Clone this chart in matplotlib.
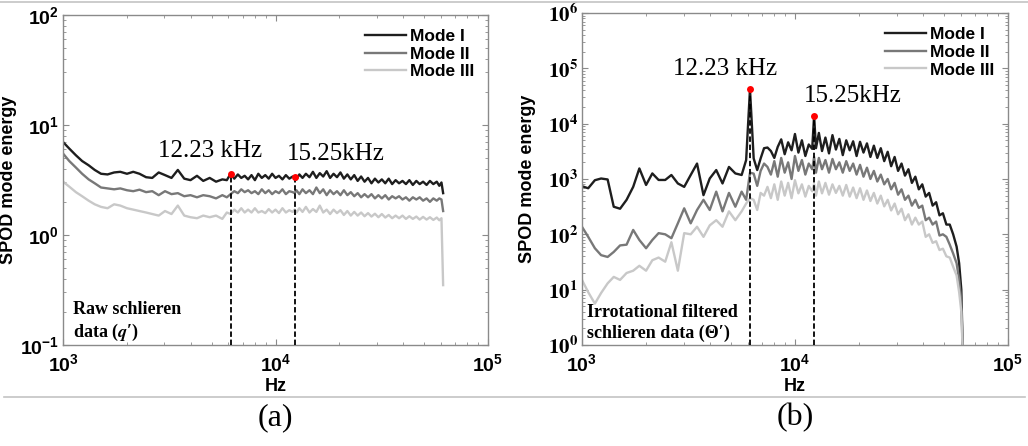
import matplotlib
matplotlib.use("Agg")
import matplotlib.pyplot as plt
from matplotlib.lines import Line2D
from matplotlib import ticker

plt.rcParams['mathtext.fontset'] = 'custom'
plt.rcParams['mathtext.rm'] = 'Liberation Sans:bold'
plt.rcParams['mathtext.bf'] = 'Liberation Sans:bold'

# frequency grid (Hz), shared by both panels
freq = [1000, 1070, 1150, 1230, 1320, 1410, 1510, 1620, 1740, 1860,
        2000, 2140, 2290, 2460, 2630, 2820, 3020, 3240, 3470, 3720,
        3980, 4270, 4570, 4900, 5250, 5620, 5900, 6150, 6400, 6650,
        6900, 7160, 7430, 7710, 8000, 8300, 8620, 8950, 9290, 9640,
        10000, 10380, 10780, 11190, 11610, 12050, 12300, 12550, 12950, 13400,
        13900, 14450, 15000, 15570, 16160, 16770, 17410, 18070, 18760, 19470,
        20210, 20980, 21780, 22610, 23470, 24360, 25290, 26250, 27250, 28290,
        29370, 30490, 31650, 32850, 34100, 35400, 36750, 38150, 39600, 41100,
        42650, 44300, 46000, 47700, 49500, 51400, 53300, 55300, 57400, 59000,
        60400, 61500]

# (a) raw schlieren data
raw_mode1 = [7.0, 6.1, 5.3, 4.7, 4.3, 3.9, 3.6, 3.55, 3.7, 3.75,
             3.6, 3.75, 3.6, 3.35, 3.3, 3.7, 3.5, 3.3, 3.9, 3.25,
             3.15, 3.45, 3.1, 3.3, 3.05, 3.2, 3.15, 3.6, 3.25, 3.55,
             3.3, 3.45, 3.2, 3.5, 3.15, 3.6, 3.3, 3.5, 3.25, 3.6,
             3.3, 3.45, 3.2, 3.5, 3.25, 3.4, 3.35, 3.2, 3.55, 3.3,
             3.6, 3.35, 3.75, 3.3, 3.65, 3.4, 3.8, 3.3, 3.6, 3.35,
             3.7, 3.25, 3.55, 3.2, 3.5, 3.1, 3.4, 3.05, 3.3, 2.95,
             3.25, 3.0, 3.2, 2.95, 3.25, 2.9, 3.15, 2.95, 3.1, 2.9,
             3.15, 2.85, 3.1, 2.9, 3.05, 2.85, 3.1, 2.9, 3.05, 2.8,
             3.0, 2.4]
raw_mode2 = [5.5, 4.7, 4.1, 3.6, 3.2, 2.95, 2.7, 2.65, 2.6, 2.65,
             2.55, 2.5, 2.58, 2.45, 2.5, 2.3, 2.5, 2.35, 2.4, 2.25,
             2.3, 2.2, 2.3, 2.25, 2.15, 2.3, 2.2, 2.35, 2.5, 2.4,
             2.6, 2.45, 2.55, 2.4, 2.5, 2.35, 2.6, 2.4, 2.55, 2.35,
             2.5, 2.4, 2.6, 2.35, 2.5, 2.45, 2.4, 2.55, 2.35, 2.6,
             2.4, 2.55, 2.35, 2.7, 2.4, 2.6, 2.3, 2.55, 2.35, 2.5,
             2.3, 2.55, 2.3, 2.45, 2.25, 2.4, 2.2, 2.35, 2.2, 2.35,
             2.15, 2.3, 2.15, 2.3, 2.1, 2.25, 2.15, 2.25, 2.1, 2.2,
             2.05, 2.2, 2.1, 2.2, 2.05, 2.15, 2.0, 2.15, 2.05, 2.15,
             2.1, 1.65]
raw_mode3 = [3.05, 2.75, 2.45, 2.25, 2.05, 1.9, 1.8, 1.75, 1.9, 1.85,
             1.75, 1.7, 1.65, 1.6, 1.55, 1.5, 1.65, 1.55, 1.85, 1.5,
             1.45, 1.42, 1.5, 1.45, 1.5, 1.4, 1.6, 1.55, 1.7, 1.6,
             1.75, 1.6, 1.7, 1.6, 1.75, 1.6, 1.65, 1.58, 1.72, 1.6,
             1.7, 1.58, 1.75, 1.6, 1.68, 1.62, 1.7, 1.6, 1.75, 1.62,
             1.8, 1.6, 1.72, 1.62, 1.85, 1.6, 1.7, 1.55, 1.7, 1.58,
             1.68, 1.52, 1.65, 1.5, 1.62, 1.5, 1.6, 1.48, 1.58, 1.47,
             1.56, 1.45, 1.55, 1.44, 1.52, 1.42, 1.5, 1.42, 1.5, 1.4,
             1.48, 1.4, 1.47, 1.38, 1.46, 1.38, 1.45, 1.37, 1.44, 1.36,
             1.42, 0.35]

# (b) irrotational filtered schlieren data
irr_mode1 = [740, 680, 950, 1020, 980, 315, 290, 420, 720, 1550,
             780, 1260, 960, 960, 1180, 830, 720, 1180, 1900, 510,
             1020, 1450, 830, 1650, 1260, 1180, 2200, 42000, 2350, 1450,
             2350, 3600, 3700, 3200, 2400, 3800, 5200, 2800, 4600, 3300,
             6500, 3000, 5000, 2600, 4200, 3500, 14000, 3600, 6800, 3200,
             5600, 2900, 6200, 3400, 5300, 2700, 5000, 3300, 4800, 2600,
             4700, 3000, 4400, 2500, 4000, 2400, 3600, 2100, 3100, 1700,
             2500, 1400, 1900, 1150, 1500, 850, 1100, 650, 800, 480,
             560, 330, 380, 220, 240, 150, 150, 100, 60, 30,
             10, 0.5]
irr_mode2 = [137, 90, 56, 42, 39, 48, 63, 65, 120, 79,
             56, 79, 105, 100, 85, 158, 295, 158, 275, 420,
             275, 590, 260, 560, 315, 590, 420, 1300, 1250, 750,
             1400, 1900, 1650, 1200, 2100, 1100, 2400, 1300, 2000, 1000,
             2600, 1400, 2200, 1200, 1900, 1500, 2500, 1300, 2400, 1500,
             2200, 1300, 2300, 1500, 2000, 1300, 2100, 1400, 1900, 1200,
             1800, 1100, 1600, 1000, 1400, 900, 1200, 800, 1000, 650,
             850, 520, 650, 420, 500, 330, 420, 300, 330, 180,
             200, 150, 170, 95, 100, 90, 65, 45, 30, 15,
             6, 0.5]
irr_mode3 = [15, 9, 5.6, 8.7, 13, 17, 15, 20, 22, 27,
             22, 34, 38, 32, 72, 22, 105, 100, 137, 90,
             145, 180, 137, 260, 180, 260, 360, 450, 420, 275,
             560, 500, 720, 450, 800, 420, 900, 500, 850, 450,
             950, 550, 800, 480, 750, 600, 800, 500, 900, 550,
             850, 520, 800, 560, 750, 500, 780, 480, 700, 450,
             680, 420, 620, 400, 560, 360, 500, 320, 420, 270,
             360, 230, 290, 180, 230, 150, 200, 150, 170, 90,
             100, 70, 75, 52, 55, 40, 38, 26, 18, 9,
             4, 0.5]

peak_idx = [27, 46]
mode_labels = ['Mode I', 'Mode II', 'Mode III']
mode_colors = ['#1e1e1e', '#787878', '#c8c8c8']

fig = plt.figure(figsize=(10.28, 4.46), dpi=100)
ax1 = fig.add_axes([0.0613, 0.2265, 0.4134, 0.740])
ax2 = fig.add_axes([0.5661, 0.2265, 0.4144, 0.7444])

panels = [
    (ax1, [raw_mode1, raw_mode2, raw_mode3], (0.1, 100), [-1, 0, 1, 2]),
    (ax2, [irr_mode1, irr_mode2, irr_mode3], (1, 1e6), [0, 1, 2, 3, 4, 5, 6]),
]

for ax, modes, ylim, yexp in panels:
    for vals, c, lab in zip(modes, mode_colors, mode_labels):
        ax.plot(freq, vals, color=c, lw=1.7, label=lab)
    for i in peak_idx:
        ax.plot([freq[i], freq[i]], [ylim[0], modes[0][i]], color='k',
                lw=1.3, ls=(0, (3, 1.5)), zorder=4)
        ax.plot(freq[i], modes[0][i], 'o', color='red', ms=5, mec='none', zorder=5)
    ax.set_xscale('log')
    ax.set_yscale('log')
    ax.set_xlim(1e3, 1e5)
    ax.set_ylim(*ylim)
    ax.set_xticks([1e3, 1e4, 1e5], [r'$\mathbf{10^{%d}}$' % e for e in (3, 4, 5)])
    ax.set_yticks([10.0 ** e for e in yexp], [r'$\mathbf{10^{%d}}$' % e for e in yexp])
    ax.xaxis.set_minor_formatter(ticker.NullFormatter())
    ax.yaxis.set_minor_formatter(ticker.NullFormatter())
    ax.tick_params(which='both', direction='in', top=True, right=True,
                   color='#8a8a8a', labelsize=14)
    ax.tick_params(which='major', length=4)
    ax.tick_params(which='minor', length=2)
    ax.tick_params(axis='x', pad=6)
    ax.tick_params(axis='y', pad=3)
    for s in ax.spines.values():
        s.set_color('#8a8a8a')
        s.set_linewidth(1.0)
    ax.set_xlabel('Hz', fontfamily='Liberation Sans', fontweight='bold', fontsize=13)
    ax.set_ylabel('SPOD mode energy', fontfamily='Liberation Sans',
                  fontweight='bold', fontsize=13)
    ax.xaxis.set_label_coords(0.5, -0.1)
    ax.yaxis.set_label_coords(-0.108, 0.5)
    ax.legend(loc='upper right', frameon=False, handlelength=2.4,
              handletextpad=0.2, labelspacing=0.15, borderaxespad=0.4,
              prop={'family': 'Liberation Sans', 'weight': 'bold', 'size': 12.5})

# serif bold y tick labels on panel (b)
for lbl in ax2.get_yticklabels():
    lbl.set_math_fontfamily('stix')
    lbl.set_fontsize(15)

serif = dict(fontfamily='Liberation Serif', va='baseline', ha='center', fontsize=18)
ax1.text(4920, 5.12, '12.23 kHz', **serif)
ax1.text(19300, 4.81, '15.25kHz', **serif)
ax2.text(4690, 7.6e4, '12.23 kHz', **serif)
ax2.text(18700, 2.5e4, '15.25kHz', **serif)

note = dict(fontfamily='Liberation Serif', fontweight='bold', fontsize=13,
            va='baseline', ha='left', math_fontfamily='stix')
ax1.text(0.024, 0.094, 'Raw schlieren', transform=ax1.transAxes, **note)
ax1.text(0.024, 0.024, r'data ($\mathbfit{q}$′)', transform=ax1.transAxes, **note)
ax2.text(0.012, 0.085, 'Irrotational filtered', transform=ax2.transAxes, **note)
ax2.text(0.012, 0.021, 'schlieren data (Θ′)', transform=ax2.transAxes, **note)

# panel captions and separator rules
fig.text(275 / 1028, 1 - 418 / 446, '(a)', ha='center', va='center',
         fontfamily='Liberation Serif', fontsize=23)
fig.text(795 / 1028, 1 - 418 / 446, '(b)', ha='center', va='center',
         fontfamily='Liberation Serif', fontsize=23)
fig.add_artist(Line2D([0, 1], [0.9955, 0.9955], color='#c4c4c4', lw=1.2))
fig.add_artist(Line2D([0.004, 0.997], [0.11, 0.11], color='#c4c4c4', lw=1.2))

fig.savefig('out.png', dpi=100)
